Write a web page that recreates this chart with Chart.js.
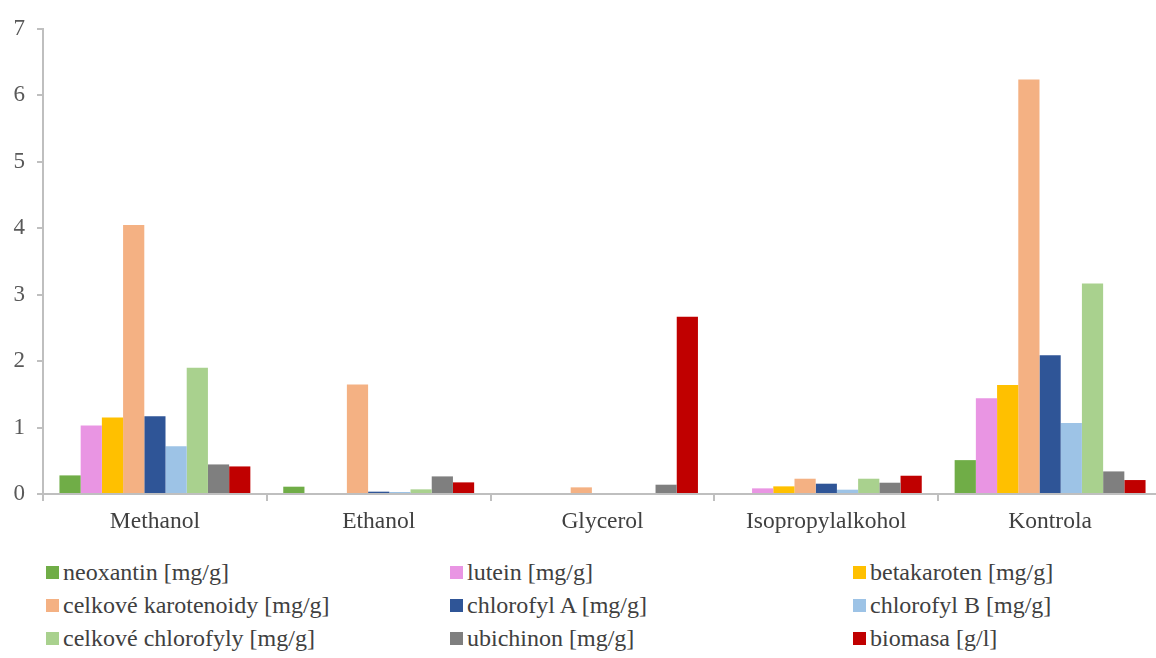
<!DOCTYPE html>
<html>
<head>
<meta charset="utf-8">
<script src="https://cdn.jsdelivr.net/npm/chart.js@4/dist/chart.umd.min.js"></script>
<style>
  html, body { margin: 0; padding: 0; background: #fff; overflow: hidden; }
  #wrap { position: relative; width: 1156px; height: 658px; overflow: hidden; }
  #graf { position: absolute; left: 0; top: 0; }
  #legenda { position: absolute; left: 46px; top: 560px; width: 1110px;
    display: grid; grid-template-columns: 404px 403px 300px; row-gap: 9px;
    font-family: "Liberation Serif", "Times New Roman", serif; font-size: 24px; color: #404040; }
  #legenda div { display: flex; align-items: center; height: 24px; white-space: nowrap; }
  #legenda span.box { width: 13px; height: 13px; margin-right: 4px; display: inline-block; }
</style>
</head>
<body>
<div id="wrap">
  <canvas id="graf" width="1164" height="550"></canvas>
  <div id="legenda"></div>
</div>
<script>
var kategorie = ["Methanol", "Ethanol", "Glycerol", "Isopropylalkohol", "Kontrola"];

var neoxantin = [0.28, 0.11, 0, 0.015, 0.51];
var lutein = [1.03, 0, 0, 0.085, 1.44];
var betakaroten = [1.15, 0, 0, 0.115, 1.64];
var karotenoidy = [4.05, 1.65, 0.10, 0.23, 6.24];
var chlorofylA = [1.17, 0.035, 0, 0.155, 2.09];
var chlorofylB = [0.72, 0.03, 0, 0.065, 1.07];
var chlorofyly = [1.90, 0.07, 0, 0.23, 3.17];
var ubichinon = [0.445, 0.265, 0.14, 0.17, 0.34];
var biomasa = [0.415, 0.175, 2.67, 0.275, 0.21];

var nazvy = ["neoxantin [mg/g]", "lutein [mg/g]", "betakaroten [mg/g]",
  "celkové karotenoidy [mg/g]", "chlorofyl A [mg/g]", "chlorofyl B [mg/g]",
  "celkové chlorofyly [mg/g]", "ubichinon [mg/g]", "biomasa [g/l]"];
var barvy = ["#70AD47", "#E995E3", "#FFC000", "#F4B183", "#2F5597",
  "#9DC3E6", "#A9D18E", "#7F7F7F", "#C00000"];
var serie = [neoxantin, lutein, betakaroten, karotenoidy, chlorofylA,
  chlorofylB, chlorofyly, ubichinon, biomasa];

var datasets = serie.map(function (s, i) {
  return {
    label: nazvy[i],
    data: s,
    backgroundColor: barvy[i],
    borderWidth: 0,
    categoryPercentage: 0.853,
    barPercentage: 1.0
  };
});

var pismoX = { family: "'Liberation Serif', 'Times New Roman', serif", size: 23.5 };
var pismoY = { family: "'Liberation Serif', 'Times New Roman', serif", size: 23 };

var ctx = document.getElementById("graf").getContext("2d");
var chart = new Chart(ctx, {
  type: "bar",
  data: { labels: kategorie, datasets: datasets },
  options: {
    responsive: false,
    animation: false,
    devicePixelRatio: 1,
    layout: { padding: { top: 29, left: 0, right: 2, bottom: 0 } },
    plugins: { legend: { display: false }, tooltip: { enabled: false } },
    scales: {
      x: {
        offset: true,
        grid: { offset: true, drawOnChartArea: false, drawTicks: true, tickLength: 7, color: "#BFBFBF", lineWidth: 2 },
        border: { color: "#BFBFBF", width: 2 },
        ticks: { color: "#404040", font: pismoX, padding: 7, maxRotation: 0 },
        afterFit: function (scale) { scale.height = 56; }
      },
      y: {
        min: 0, max: 7,
        ticks: { stepSize: 1, color: "#595959", font: pismoY, padding: 12 },
        grid: { drawOnChartArea: false, drawTicks: true, tickLength: 6, color: "#BFBFBF", lineWidth: 2 },
        border: { color: "#BFBFBF", width: 2 },
        afterFit: function (scale) { scale.width = 43; }
      }
    }
  }
});

var leg = document.getElementById("legenda");
nazvy.forEach(function (n, i) {
  var d = document.createElement("div");
  var b = document.createElement("span");
  b.className = "box";
  b.style.background = barvy[i];
  d.appendChild(b);
  d.appendChild(document.createTextNode(n));
  leg.appendChild(d);
});
</script>
</body>
</html>
